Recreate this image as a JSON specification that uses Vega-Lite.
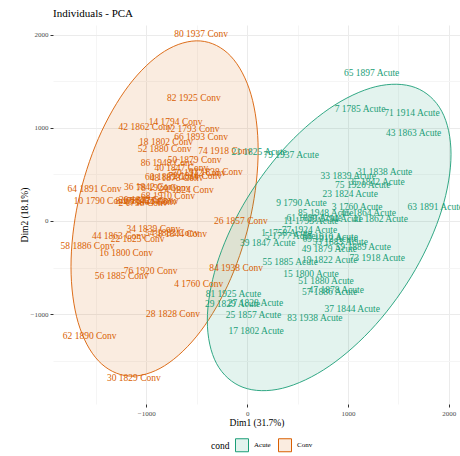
{
  "$schema": "https://vega.github.io/schema/vega-lite/v6.json",
  "autosize": {"type": "none"},
  "padding": {"left": 53, "top": 25, "right": 0, "bottom": 52},
  "width": 407,
  "height": 379,
  "background": "white",
  "title": {"text": "Individuals - PCA", "anchor": "start", "frame": "group", "font": "Liberation Serif", "fontSize": 11, "fontWeight": "normal", "color": "black", "offset": 6},
  "config": {"view": {"stroke": null}},
  "datasets": {
    "ell": [
      {"cond": "Conv", "i": 0, "x": 109.5, "y": 759},
      {"cond": "Conv", "i": 1, "x": 38.8, "y": 1357.8},
      {"cond": "Conv", "i": 2, "x": -162.5, "y": 1770.2},
      {"cond": "Conv", "i": 3, "x": -463.7, "y": 1933.7},
      {"cond": "Conv", "i": 4, "x": -819, "y": 1823},
      {"cond": "Conv", "i": 5, "x": -1174.3, "y": 1455.3},
      {"cond": "Conv", "i": 6, "x": -1475.5, "y": 886.4},
      {"cond": "Conv", "i": 7, "x": -1676.8, "y": 203},
      {"cond": "Conv", "i": 8, "x": -1747.5, "y": -491},
      {"cond": "Conv", "i": 9, "x": -1676.8, "y": -1089.8},
      {"cond": "Conv", "i": 10, "x": -1475.5, "y": -1502.2},
      {"cond": "Conv", "i": 11, "x": -1174.3, "y": -1665.7},
      {"cond": "Conv", "i": 12, "x": -819, "y": -1555},
      {"cond": "Conv", "i": 13, "x": -463.7, "y": -1187.3},
      {"cond": "Conv", "i": 14, "x": -162.5, "y": -618.4},
      {"cond": "Conv", "i": 15, "x": 38.8, "y": 65},
      {"cond": "Acute", "i": 0, "x": 2023, "y": 717},
      {"cond": "Acute", "i": 1, "x": 1931, "y": 1178.3},
      {"cond": "Acute", "i": 2, "x": 1668.9, "y": 1433},
      {"cond": "Acute", "i": 3, "x": 1276.7, "y": 1442.9},
      {"cond": "Acute", "i": 4, "x": 814, "y": 1206},
      {"cond": "Acute", "i": 5, "x": 351.3, "y": 758.7},
      {"cond": "Acute", "i": 6, "x": -40.9, "y": 168.8},
      {"cond": "Acute", "i": 7, "x": -303, "y": -473.7},
      {"cond": "Acute", "i": 8, "x": -395, "y": -1071},
      {"cond": "Acute", "i": 9, "x": -303, "y": -1532.3},
      {"cond": "Acute", "i": 10, "x": -40.9, "y": -1787},
      {"cond": "Acute", "i": 11, "x": 351.3, "y": -1796.9},
      {"cond": "Acute", "i": 12, "x": 814, "y": -1560},
      {"cond": "Acute", "i": 13, "x": 1276.7, "y": -1112.7},
      {"cond": "Acute", "i": 14, "x": 1668.9, "y": -522.8},
      {"cond": "Acute", "i": 15, "x": 1931, "y": 119.7}
    ],
    "pts": [
      {"label": "80 1937 Conv", "cond": "Conv", "x": -457, "y": 2011},
      {"label": "82 1925 Conv", "cond": "Conv", "x": -529, "y": 1319},
      {"label": "14 1794 Conv", "cond": "Conv", "x": -710, "y": 1068},
      {"label": "42 1862 Conv", "cond": "Conv", "x": -1008, "y": 1007},
      {"label": "12 1793 Conv", "cond": "Conv", "x": -541, "y": 989},
      {"label": "66 1893 Conv", "cond": "Conv", "x": -457, "y": 907},
      {"label": "18 1802 Conv", "cond": "Conv", "x": -805, "y": 853},
      {"label": "52 1880 Conv", "cond": "Conv", "x": -819, "y": 778},
      {"label": "74 1918 Conv", "cond": "Conv", "x": -218, "y": 756},
      {"label": "50 1879 Conv", "cond": "Conv", "x": -521, "y": 656},
      {"label": "86 1948 Conv", "cond": "Conv", "x": -789, "y": 620},
      {"label": "40 1847 Conv", "cond": "Conv", "x": -652, "y": 573},
      {"label": "32 1838 Conv", "cond": "Conv", "x": -310, "y": 523},
      {"label": "70 1912 Conv", "cond": "Conv", "x": -477, "y": 513},
      {"label": "60 1889 Conv", "cond": "Conv", "x": -745, "y": 470},
      {"label": "48 1878 Conv", "cond": "Conv", "x": -700, "y": 462},
      {"label": "72 1914 Conv", "cond": "Conv", "x": -516, "y": 484},
      {"label": "36 1842 Conv", "cond": "Conv", "x": -955, "y": 369},
      {"label": "24 1824 Conv", "cond": "Conv", "x": -599, "y": 333},
      {"label": "78 1924 Conv", "cond": "Conv", "x": -830, "y": 350},
      {"label": "64 1891 Conv", "cond": "Conv", "x": -1514, "y": 340},
      {"label": "10 1790 Conv", "cond": "Conv", "x": -1452, "y": 215},
      {"label": "8 1785 Conv", "cond": "Conv", "x": -1063, "y": 215},
      {"label": "20 1822 Conv", "cond": "Conv", "x": -1003, "y": 226},
      {"label": "46 1864 Conv", "cond": "Conv", "x": -963, "y": 204},
      {"label": "2 1758 Conv", "cond": "Conv", "x": -1033, "y": 194},
      {"label": "68 1910 Conv", "cond": "Conv", "x": -785, "y": 264},
      {"label": "6 1777 Conv", "cond": "Conv", "x": -925, "y": 210},
      {"label": "26 1857 Conv", "cond": "Conv", "x": -62, "y": 0},
      {"label": "34 1839 Conv", "cond": "Conv", "x": -930, "y": -89},
      {"label": "44 1863 Conv", "cond": "Conv", "x": -1273, "y": -158},
      {"label": "22 1825 Conv", "cond": "Conv", "x": -1087, "y": -194},
      {"label": "38 1844 Conv", "cond": "Conv", "x": -665, "y": -140},
      {"label": "54 1883 Conv", "cond": "Conv", "x": -745, "y": -129},
      {"label": "58 1886 Conv", "cond": "Conv", "x": -1584, "y": -269},
      {"label": "16 1800 Conv", "cond": "Conv", "x": -1200, "y": -348},
      {"label": "76 1920 Conv", "cond": "Conv", "x": -958, "y": -534},
      {"label": "56 1885 Conv", "cond": "Conv", "x": -1245, "y": -591},
      {"label": "84 1938 Conv", "cond": "Conv", "x": -109, "y": -509},
      {"label": "4 1760 Conv", "cond": "Conv", "x": -480, "y": -677},
      {"label": "28 1828 Conv", "cond": "Conv", "x": -735, "y": -1004},
      {"label": "62 1890 Conv", "cond": "Conv", "x": -1562, "y": -1237},
      {"label": "30 1829 Conv", "cond": "Conv", "x": -1124, "y": -1692},
      {"label": "65 1897 Acute", "cond": "Acute", "x": 1235, "y": 1588},
      {"label": "7 1785 Acute", "cond": "Acute", "x": 1120, "y": 1201},
      {"label": "71 1914 Acute", "cond": "Acute", "x": 1635, "y": 1158},
      {"label": "43 1863 Acute", "cond": "Acute", "x": 1652, "y": 950},
      {"label": "21 1825 Acute", "cond": "Acute", "x": 119, "y": 742},
      {"label": "79 1937 Acute", "cond": "Acute", "x": 437, "y": 710},
      {"label": "31 1838 Acute", "cond": "Acute", "x": 1364, "y": 523},
      {"label": "33 1839 Acute", "cond": "Acute", "x": 1003, "y": 484},
      {"label": "35 1842 Acute", "cond": "Acute", "x": 1288, "y": 423},
      {"label": "75 1920 Acute", "cond": "Acute", "x": 1147, "y": 387},
      {"label": "23 1824 Acute", "cond": "Acute", "x": 1023, "y": 290},
      {"label": "9 1790 Acute", "cond": "Acute", "x": 539, "y": 190},
      {"label": "3 1760 Acute", "cond": "Acute", "x": 1092, "y": 147},
      {"label": "63 1891 Acute", "cond": "Acute", "x": 1867, "y": 147},
      {"label": "85 1948 Acute", "cond": "Acute", "x": 780, "y": 89},
      {"label": "45 1864 Acute", "cond": "Acute", "x": 1202, "y": 89},
      {"label": "41 1862 Acute", "cond": "Acute", "x": 1321, "y": 22},
      {"label": "61 1890 Acute", "cond": "Acute", "x": 665, "y": 29},
      {"label": "11 1793 Acute", "cond": "Acute", "x": 634, "y": 0},
      {"label": "13 1794 Acute", "cond": "Acute", "x": 874, "y": 22},
      {"label": "77 1924 Acute", "cond": "Acute", "x": 619, "y": -97},
      {"label": "1 1758 Acute", "cond": "Acute", "x": 391, "y": -126},
      {"label": "5 1777 Acute", "cond": "Acute", "x": 427, "y": -161},
      {"label": "67 1910 Acute", "cond": "Acute", "x": 824, "y": -172},
      {"label": "69 1912 Acute", "cond": "Acute", "x": 824, "y": -197},
      {"label": "53 1883 Acute", "cond": "Acute", "x": 923, "y": -223},
      {"label": "59 1889 Acute", "cond": "Acute", "x": 1152, "y": -276},
      {"label": "39 1847 Acute", "cond": "Acute", "x": 204, "y": -240},
      {"label": "49 1879 Acute", "cond": "Acute", "x": 816, "y": -305},
      {"label": "73 1918 Acute", "cond": "Acute", "x": 1291, "y": -394},
      {"label": "19 1822 Acute", "cond": "Acute", "x": 819, "y": -419},
      {"label": "55 1885 Acute", "cond": "Acute", "x": 427, "y": -444},
      {"label": "15 1800 Acute", "cond": "Acute", "x": 633, "y": -573},
      {"label": "51 1880 Acute", "cond": "Acute", "x": 783, "y": -642},
      {"label": "47 1878 Acute", "cond": "Acute", "x": 884, "y": -742},
      {"label": "57 1886 Acute", "cond": "Acute", "x": 819, "y": -760},
      {"label": "37 1844 Acute", "cond": "Acute", "x": 1043, "y": -950},
      {"label": "83 1938 Acute", "cond": "Acute", "x": 672, "y": -1039},
      {"label": "81 1925 Acute", "cond": "Acute", "x": -136, "y": -788},
      {"label": "29 1829 Acute", "cond": "Acute", "x": -144, "y": -889},
      {"label": "27 1828 Acute", "cond": "Acute", "x": 83, "y": -885},
      {"label": "25 1857 Acute", "cond": "Acute", "x": 63, "y": -1011},
      {"label": "17 1802 Acute", "cond": "Acute", "x": 89, "y": -1180}
    ]
  },
  "encoding": {
    "x": {"type": "quantitative", "scale": {"domain": [-1926, 2112], "nice": false, "zero": false},
      "axis": {"title": "Dim1 (31.7%)", "values": [-1500, -1000, -500, 0, 500, 1000, 1500, 2000], "format": "d",
        "labelExpr": "datum.value % 1000 === 0 ? datum.label : ''",
        "grid": true, "gridColor": {"condition": {"test": "datum.value % 1000 === 0", "value": "#EBEBEB"}, "value": "#F5F5F5"},
        "tickOpacity": {"condition": {"test": "datum.value % 1000 === 0", "value": 1}, "value": 0},
        "tickColor": "#333333", "tickSize": 3, "domain": false,
        "labelFont": "Liberation Serif", "labelFontSize": 7, "labelColor": "#4D4D4D", "labelPadding": 2,
        "titleFont": "Liberation Serif", "titleFontSize": 9.5, "titleFontWeight": "normal", "titleColor": "black", "titlePadding": 1}},
    "y": {"type": "quantitative", "scale": {"domain": [-1966, 2105], "nice": false, "zero": false},
      "axis": {"title": "Dim2 (18.1%)", "values": [-1500, -1000, -500, 0, 500, 1000, 1500, 2000], "format": "d",
        "labelExpr": "datum.value % 1000 === 0 ? datum.label : ''",
        "grid": true, "gridColor": {"condition": {"test": "datum.value % 1000 === 0", "value": "#EBEBEB"}, "value": "#F5F5F5"},
        "tickOpacity": {"condition": {"test": "datum.value % 1000 === 0", "value": 1}, "value": 0},
        "tickColor": "#333333", "tickSize": 3, "domain": false,
        "labelFont": "Liberation Serif", "labelFontSize": 7, "labelColor": "#4D4D4D", "labelPadding": 2,
        "titleFont": "Liberation Serif", "titleFontSize": 9.5, "titleFontWeight": "normal", "titleColor": "black", "titlePadding": 1}}
  },
  "layer": [
    {
      "data": {"name": "ell"},
      "mark": {"type": "line", "interpolate": "cardinal-closed", "fillOpacity": 0.12, "strokeWidth": 0.9},
      "encoding": {
        "x": {"field": "x", "type": "quantitative"},
        "y": {"field": "y", "type": "quantitative"},
        "order": {"field": "i", "type": "quantitative"},
        "stroke": {"field": "cond", "type": "nominal", "scale": {"domain": ["Acute", "Conv"], "range": ["#1B9E77", "#D95F02"]},
          "legend": {"orient": "none", "legendX": 158, "legendY": 413, "direction": "horizontal", "titleOrient": "left", "title": "cond",
            "titleFont": "Liberation Serif", "titleFontSize": 9.5, "titleFontWeight": "normal", "titleColor": "black",
            "labelFont": "Liberation Serif", "labelFontSize": 7, "labelColor": "black", "symbolType": "square", "symbolSize": 169,
            "symbolStrokeWidth": 1, "columnPadding": 5, "labelOffset": 5, "titlePadding": 5,
            "encode": {"symbols": {"update": {"fillOpacity": {"value": 0.12}, "opacity": {"value": 1}}}}}},
        "fill": {"field": "cond", "type": "nominal", "scale": {"domain": ["Acute", "Conv"], "range": ["#1B9E77", "#D95F02"]},
          "legend": {"orient": "none", "legendX": 158, "legendY": 413, "direction": "horizontal", "titleOrient": "left", "title": "cond",
            "titleFont": "Liberation Serif", "titleFontSize": 9.5, "titleFontWeight": "normal", "titleColor": "black",
            "labelFont": "Liberation Serif", "labelFontSize": 7, "labelColor": "black", "symbolType": "square", "symbolSize": 169,
            "symbolStrokeWidth": 1, "columnPadding": 5, "labelOffset": 5, "titlePadding": 5,
            "encode": {"symbols": {"update": {"fillOpacity": {"value": 0.12}, "opacity": {"value": 1}}}}}}
      }
    },
    {
      "mark": {"type": "rule", "strokeDash": [4, 3], "color": "black", "strokeWidth": 0.9},
      "encoding": {"x": {"datum": 0}}
    },
    {
      "mark": {"type": "rule", "strokeDash": [4, 3], "color": "black", "strokeWidth": 0.9},
      "encoding": {"y": {"datum": 0}}
    },
    {
      "data": {"name": "pts"},
      "mark": {"type": "text", "font": "Liberation Serif", "fontSize": 9.5, "align": "center", "baseline": "middle"},
      "encoding": {
        "x": {"field": "x", "type": "quantitative"},
        "y": {"field": "y", "type": "quantitative"},
        "text": {"field": "label", "type": "nominal"},
        "color": {"field": "cond", "type": "nominal", "scale": {"domain": ["Acute", "Conv"], "range": ["#1B9E77", "#D95F02"]}, "legend": null}
      }
    }
  ]
}
